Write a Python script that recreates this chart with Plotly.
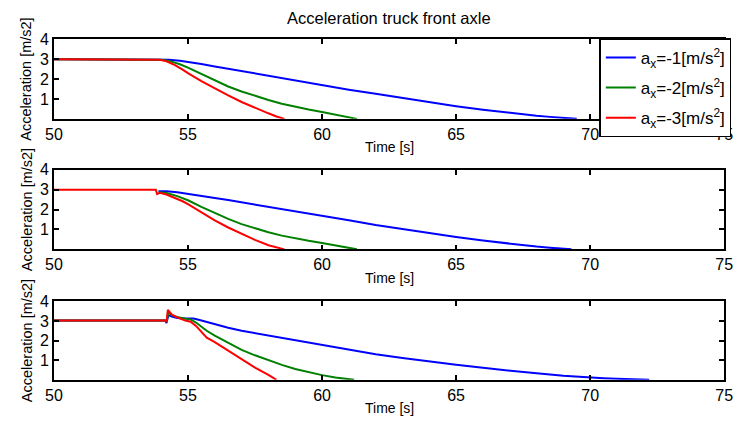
import plotly.graph_objects as go

# ---- data: time [s] and acceleration [m/s^2] for each braking case ----
# panel 1
t1_a1 = [50, 53.8, 54.0, 54.3, 54.7, 55, 55.5, 56, 56.5, 57, 57.5, 58, 59, 60, 61, 62, 63, 64, 65, 66, 67, 67.5, 68, 68.5, 69, 69.5]
y1_a1 = [3.0, 3.0, 2.99, 2.97, 2.92, 2.87, 2.76, 2.64, 2.52, 2.41, 2.29, 2.17, 1.93, 1.69, 1.47, 1.26, 1.05, 0.84, 0.64, 0.46, 0.3, 0.23, 0.16, 0.1, 0.04, 0.0]
t1_a2 = [50, 53.8, 54.0, 54.3, 54.7, 55, 55.5, 56, 56.5, 57, 57.5, 58, 58.5, 59, 59.5, 60, 60.5, 61, 61.3]
y1_a2 = [3.0, 3.0, 2.98, 2.92, 2.75, 2.58, 2.26, 1.93, 1.63, 1.38, 1.15, 0.95, 0.76, 0.6, 0.47, 0.35, 0.22, 0.08, 0.0]
t1_a3 = [50, 53.8, 53.95, 54.2, 54.5, 54.8, 55, 55.5, 56, 56.5, 57, 57.5, 58, 58.3, 58.6]
y1_a3 = [3.0, 3.0, 2.98, 2.9, 2.72, 2.48, 2.3, 1.9, 1.53, 1.18, 0.85, 0.55, 0.28, 0.12, 0.0]

# panel 2
t2_a1 = [53.9, 54.2, 54.6, 55, 55.5, 56, 56.5, 57, 57.5, 58, 59, 60, 61, 62, 63, 64, 65, 66, 67, 67.5, 68, 68.5, 69, 69.3]
y2_a1 = [2.92, 2.92, 2.87, 2.8, 2.7, 2.59, 2.48, 2.37, 2.25, 2.14, 1.93, 1.71, 1.46, 1.22, 1.01, 0.81, 0.62, 0.44, 0.28, 0.21, 0.14, 0.08, 0.03, 0.0]
t2_a2 = [53.9, 54.2, 54.6, 55, 55.5, 56, 56.5, 57, 57.5, 58, 58.5, 59, 59.5, 60, 60.5, 61, 61.3]
y2_a2 = [2.88, 2.84, 2.68, 2.47, 2.14, 1.82, 1.53, 1.27, 1.05, 0.86, 0.69, 0.55, 0.43, 0.32, 0.2, 0.07, 0.0]
t2_a3 = [50, 53.8, 53.85, 53.95, 54.2, 54.5, 54.8, 55, 55.5, 56, 56.5, 57, 57.5, 58, 58.3, 58.6]
y2_a3 = [3.0, 3.0, 2.78, 2.85, 2.76, 2.6, 2.42, 2.28, 1.86, 1.46, 1.1, 0.78, 0.48, 0.21, 0.09, 0.0]

# panel 3
t3_a1 = [50, 54.15, 54.2, 54.27, 54.4, 54.6, 54.9, 55.2, 55.4, 55.7, 56, 56.5, 57, 57.5, 58, 59, 60, 61, 62, 63, 64, 65, 66, 67, 68, 69, 70, 70.5, 71, 71.6, 72.2]
y3_a1 = [3.03, 3.03, 2.9, 3.3, 3.22, 3.15, 3.12, 3.12, 3.06, 2.95, 2.82, 2.65, 2.5, 2.38, 2.26, 2.01, 1.76, 1.52, 1.3, 1.11, 0.93, 0.77, 0.61, 0.46, 0.33, 0.21, 0.11, 0.08, 0.05, 0.02, 0.0]
t3_a2 = [50, 54.15, 54.2, 54.27, 54.4, 54.6, 54.9, 55.1, 55.3, 55.5, 55.7, 56, 56.5, 57, 57.5, 58, 58.5, 59, 59.5, 60, 60.5, 61.2]
y3_a2 = [3.03, 3.03, 2.95, 3.45, 3.3, 3.2, 3.12, 3.08, 2.92, 2.7, 2.5, 2.25, 1.88, 1.53, 1.25, 1.0, 0.76, 0.55, 0.38, 0.24, 0.12, 0.0]
t3_a3 = [50, 54.15, 54.2, 54.25, 54.4, 54.6, 54.9, 55.1, 55.3, 55.5, 55.7, 56, 56.5, 57, 57.5, 58, 58.3]
y3_a3 = [3.03, 3.03, 2.95, 3.57, 3.32, 3.18, 3.02, 2.96, 2.75, 2.45, 2.15, 1.92, 1.48, 1.05, 0.62, 0.25, 0.0]

series_names = ["a<sub>x</sub>=-1[m/s<sup>2</sup>]",
                "a<sub>x</sub>=-2[m/s<sup>2</sup>]",
                "a<sub>x</sub>=-3[m/s<sup>2</sup>]"]
colors = ["#0000ff", "#008000", "#ff0000"]

x_ticks = [50, 55, 60, 65, 70, 75]
y_ticks = [1, 2, 3, 4]

panels = [
    [(t1_a1, y1_a1), (t1_a2, y1_a2), (t1_a3, y1_a3)],
    [(t2_a1, y2_a1), (t2_a2, y2_a2), (t2_a3, y2_a3)],
    [(t3_a1, y3_a1), (t3_a2, y3_a2), (t3_a3, y3_a3)],
]

W, H = 743, 423
FONT = "Liberation Sans"

# panel boxes in pixels (top, bottom)
x_left, x_right = 46, 733
rows_px = [(32, 113), (165, 246), (299, 379)]

fig = go.Figure()
layout = dict(
    width=W, height=H,
    margin=dict(l=0, r=0, t=0, b=0),
    paper_bgcolor="white", plot_bgcolor="white",
    font=dict(family=FONT, size=15, color="black"),
    showlegend=True,
    legend=dict(x=605 / W, y=1 - 31 / H, xanchor="left", yanchor="top",
                bgcolor="white", bordercolor="black", borderwidth=1.5,
                font=dict(size=17, family=FONT, color="black"),
                tracegroupgap=5, itemwidth=30),
)

annotations = []
for i, (series, (top, bot)) in enumerate(zip(panels, rows_px)):
    n = "" if i == 0 else str(i + 1)
    xa, ya = "x" + n, "y" + n
    for j, (t, y) in enumerate(series):
        fig.add_trace(go.Scatter(
            x=t, y=y, mode="lines", xaxis=xa, yaxis=ya,
            line=dict(color=colors[j], width=2),
            name=series_names[j], legendgroup="g%d" % j,
            showlegend=(i == 0),
        ))
    axis_common = dict(showline=True, linecolor="black", linewidth=1.5,
                       mirror="ticks", ticks="inside", ticklen=5,
                       tickwidth=1.5, tickcolor="black", showgrid=False,
                       zeroline=False,
                       tickfont=dict(size=16, family=FONT, color="black"))
    layout["xaxis" + n] = dict(
        domain=[x_left / W, x_right / W], range=[50, 75],
        tickvals=x_ticks, anchor=ya, **axis_common)
    layout["yaxis" + n] = dict(
        domain=[1 - bot / H, 1 - top / H], range=[0, 4],
        tickvals=y_ticks, anchor=xa, ticklabelstandoff=0, **axis_common)
    annotations.append(dict(
        text="Time [s]", x=(x_left + x_right) / 2 / W, y=1 - (bot + 29) / H,
        xref="paper", yref="paper", showarrow=False, xanchor="center",
        yanchor="middle", font=dict(size=14, family=FONT, color="black")))
    annotations.append(dict(
        text="Acceleration [m/s2]", x=18 / W, y=1 - (top + bot) / 2 / H,
        xref="paper", yref="paper", showarrow=False, textangle=-90,
        xanchor="center", yanchor="middle",
        font=dict(size=14.5, family=FONT, color="black")))

annotations.append(dict(
    text="Acceleration truck front axle", x=(x_left + x_right) / 2 / W,
    y=1 - 10 / H, xref="paper", yref="paper", showarrow=False,
    xanchor="center", yanchor="middle",
    font=dict(size=16.5, family=FONT, color="black")))

layout["annotations"] = annotations
fig.update_layout(**layout)
fig.write_html("out.html")
